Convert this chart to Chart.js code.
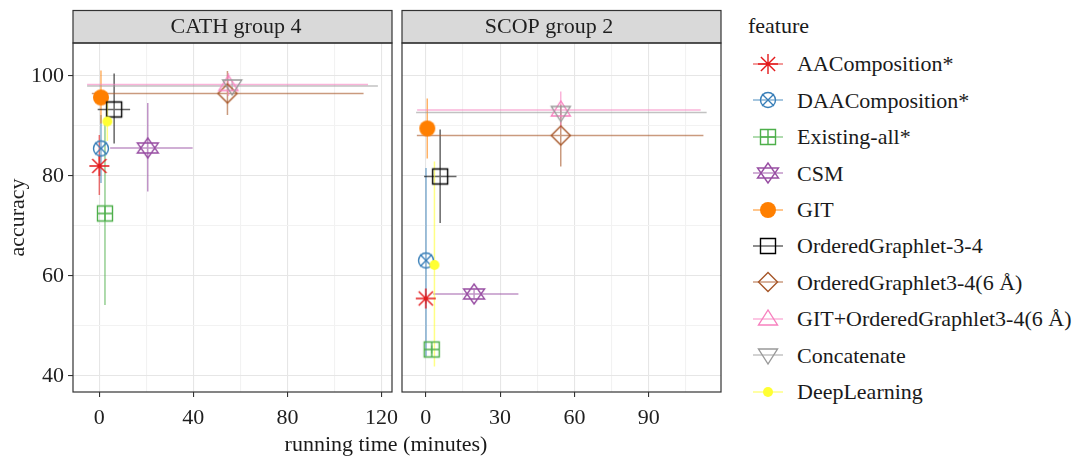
<!DOCTYPE html>
<html>
<head>
<meta charset="utf-8">
<script src="https://cdn.jsdelivr.net/npm/chart.js@4.4.1/dist/chart.umd.min.js"></script>
<style>
  body { margin: 0; width: 1085px; height: 458px; background: #fff; position: relative; overflow: hidden;
         font-family: "Liberation Serif", serif; color: #1a1a1a; }
  canvas { position: absolute; top: 0; }
  #cath { left: 0; }
  #scop { left: 397px; }
  #xtitle { position: absolute; left: 186px; width: 400px; top: 433px; text-align: center;
            font-size: 22px; line-height: 22px; }
  .ltxt { position: absolute; font-size: 22px; line-height: 22px; white-space: nowrap; }
</style>
</head>
<body>
<canvas id="cath" width="405" height="458"></canvas>
<canvas id="scop" width="329" height="458"></canvas>
<div id="xtitle">running time (minutes)</div>
<div id="legend"></div>
<script>
const features = ["AAComposition*", "DAAComposition*", "Existing-all*", "CSM", "GIT",
  "OrderedGraphlet-3-4", "OrderedGraphlet3-4(6 Å)", "GIT+OrderedGraphlet3-4(6 Å)", "Concatenate", "DeepLearning"];
const featureColors = ["#e41a1c", "#377eb8", "#4daf4a", "#984ea3", "#ff7f00",
  "#000000", "#a65628", "#f781bf", "#999999", "#ffff33"];
const featureShapes = ["asterisk", "circleCross", "squarePlus", "starDavid", "dot",
  "square", "diamond", "triangle", "triangleDown", "smallDot"];

// CATH group 4 (running time in minutes, accuracy in %)
const cathTime   = [0, 0.7, 2.4, 20.6, 0.7, 6.3, 54.5, 54.9, 56.5, 3.4];
const cathTimeLo = [-0.3, 0.4, 2.1, 4.6, 0.4, -0.7, -3.2, -5.2, -5.2, 3.1];
const cathTimeHi = [0.3, 1.0, 2.7, 39.7, 1.0, 13.1, 112.4, 114.3, 118.5, 3.7];
const cathAcc    = [82.0, 85.5, 72.5, 85.6, 95.7, 93.3, 96.5, 98.3, 98.0, 90.9];
const cathAccLo  = [76.2, 78.6, 54.2, 76.9, 90.5, 86.5, 92.2, 96.0, 97.0, 87.0];
const cathAccHi  = [88.2, 92.2, 91.5, 94.6, 101.1, 100.5, 101.0, 100.6, 99.0, 96.0];

// SCOP group 2
const scopTime   = [0, 0.1, 2.4, 19.5, 0.6, 5.8, 54.5, 54.5, 54.5, 3.5];
const scopTimeLo = [-0.3, -0.2, 2.1, 3.0, 0.3, -0.7, -3.6, -3.5, -3.9, 3.2];
const scopTimeHi = [0.3, 0.4, 2.7, 37.4, 0.9, 12.4, 112.1, 111.0, 113.4, 3.8];
const scopAcc    = [55.5, 63.1, 45.3, 56.4, 89.5, 79.9, 88.1, 93.2, 92.7, 62.2];
const scopAccLo  = [54.5, 43.9, 44.5, 55.5, 83.5, 70.6, 81.9, 89.5, 91.5, 41.9];
const scopAccHi  = [56.5, 81.6, 46.1, 57.3, 95.5, 89.3, 94.3, 96.9, 94.0, 82.9];

const cathXTicks = [0, 20, 40, 60, 80, 100, 120];
const cathXMajor = [0, 40, 80, 120];
const scopXTicks = [0, 15, 30, 45, 60, 75, 90, 105];
const scopXMajor = [0, 30, 60, 90];
const yTicks = [40, 50, 60, 70, 80, 90, 100];
const yMajor = [40, 60, 80, 100];

const FONT = "'Liberation Serif', serif";
const TEXT = '#1f1f1f';

function alpha(hex, a) {
  const n = parseInt(hex.slice(1), 16);
  return `rgba(${n >> 16},${(n >> 8) & 255},${n & 255},${a})`;
}

function drawShape(g, shape, color, cx, cy) {
  g.strokeStyle = color;
  g.fillStyle = color;
  g.lineWidth = 1.4;
  g.beginPath();
  if (shape === 'asterisk') {
    const r = 10, d = 7.1;
    g.moveTo(cx - r, cy); g.lineTo(cx + r, cy);
    g.moveTo(cx, cy - r); g.lineTo(cx, cy + r);
    g.moveTo(cx - d, cy - d); g.lineTo(cx + d, cy + d);
    g.moveTo(cx - d, cy + d); g.lineTo(cx + d, cy - d);
    g.stroke();
  } else if (shape === 'circleCross') {
    g.arc(cx, cy, 7.5, 0, Math.PI * 2);
    g.moveTo(cx - 6, cy - 6); g.lineTo(cx + 6, cy + 6);
    g.moveTo(cx - 6, cy + 6); g.lineTo(cx + 6, cy - 6);
    g.stroke();
  } else if (shape === 'squarePlus') {
    g.rect(cx - 7.5, cy - 7.5, 15, 15);
    g.moveTo(cx - 7.5, cy); g.lineTo(cx + 7.5, cy);
    g.moveTo(cx, cy - 7.5); g.lineTo(cx, cy + 7.5);
    g.stroke();
  } else if (shape === 'starDavid') {
    g.moveTo(cx, cy - 10); g.lineTo(cx - 10.5, cy + 5); g.lineTo(cx + 10.5, cy + 5); g.closePath();
    g.moveTo(cx, cy + 10); g.lineTo(cx - 10.5, cy - 5); g.lineTo(cx + 10.5, cy - 5); g.closePath();
    g.stroke();
  } else if (shape === 'dot') {
    g.arc(cx, cy, 8, 0, Math.PI * 2);
    g.fill();
  } else if (shape === 'square') {
    g.rect(cx - 7.5, cy - 7.5, 15, 15);
    g.stroke();
  } else if (shape === 'diamond') {
    g.moveTo(cx, cy - 9.5); g.lineTo(cx + 9.5, cy); g.lineTo(cx, cy + 9.5); g.lineTo(cx - 9.5, cy); g.closePath();
    g.stroke();
  } else if (shape === 'triangle') {
    g.moveTo(cx, cy - 9); g.lineTo(cx - 9.5, cy + 6); g.lineTo(cx + 9.5, cy + 6); g.closePath();
    g.stroke();
  } else if (shape === 'triangleDown') {
    g.moveTo(cx, cy + 9); g.lineTo(cx - 9.5, cy - 6); g.lineTo(cx + 9.5, cy - 6); g.closePath();
    g.stroke();
  } else if (shape === 'smallDot') {
    g.arc(cx, cy, 5, 0, Math.PI * 2);
    g.fill();
  }
}

function makeGlyph(i, withLine) {
  const c = document.createElement('canvas');
  c.width = withLine ? 34 : 26;
  c.height = 26;
  const g = c.getContext('2d');
  if (withLine) {
    g.strokeStyle = alpha(featureColors[i], 0.6);
    g.lineWidth = 1.5;
    g.beginPath(); g.moveTo(2, 13); g.lineTo(32, 13); g.stroke();
  }
  drawShape(g, featureShapes[i], featureColors[i], c.width / 2, 13);
  return c;
}

// horizontal + vertical ranges for every point, no end caps
const errorBars = {
  id: 'errorBars',
  beforeDatasetsDraw(chart) {
    const { ctx, chartArea: a, scales: { x, y } } = chart;
    ctx.save();
    ctx.beginPath(); ctx.rect(a.left, a.top, a.width, a.height); ctx.clip();
    ctx.lineWidth = 1.5;
    chart.data.datasets.forEach(ds => {
      const p = ds.data[0];
      ctx.strokeStyle = ds.rangeColor;
      ctx.beginPath();
      ctx.moveTo(x.getPixelForValue(p.xLo), y.getPixelForValue(p.y));
      ctx.lineTo(x.getPixelForValue(p.xHi), y.getPixelForValue(p.y));
      ctx.moveTo(x.getPixelForValue(p.x), y.getPixelForValue(p.yLo));
      ctx.lineTo(x.getPixelForValue(p.x), y.getPixelForValue(p.yHi));
      ctx.stroke();
    });
    ctx.restore();
  }
};

// panel border + facet strip
const panelFrame = {
  id: 'panelFrame',
  afterDraw(chart, args, opts) {
    const { ctx, chartArea: a } = chart;
    ctx.save();
    ctx.fillStyle = '#d9d9d9';
    ctx.fillRect(a.left, a.top - 32.5, a.width, 32.5);
    ctx.strokeStyle = '#333333';
    ctx.lineWidth = 1.2;
    ctx.strokeRect(a.left, a.top - 32.5, a.width, 32.5);
    ctx.strokeRect(a.left, a.top, a.width, a.height);
    ctx.fillStyle = TEXT;
    ctx.font = '22px ' + FONT;
    ctx.textAlign = 'center';
    ctx.textBaseline = 'alphabetic';
    ctx.fillText(opts.text, a.left + opts.textX, a.top - 10);
    ctx.restore();
  }
};

function buildDatasets(time, timeLo, timeHi, acc, accLo, accHi) {
  return features.map((f, i) => ({
    label: f,
    data: [{ x: time[i], y: acc[i], xLo: timeLo[i], xHi: timeHi[i], yLo: accLo[i], yHi: accHi[i] }],
    pointStyle: makeGlyph(i, false),
    pointRadius: 10,
    rangeColor: alpha(featureColors[i], 0.6),
    order: features.length - i
  }));
}

function gridColor(major) {
  return ctx => major.includes(ctx.tick.value) ? '#e6e6e6' : '#f2f2f2';
}
function tickColor(major) {
  return ctx => major.includes(ctx.tick.value) ? '#333333' : 'rgba(0,0,0,0)';
}

function makePanel(id, title, textX, datasets, xMin, xMax, xTicks, xMajor, showY, leftPad, rightPad) {
  return new Chart(document.getElementById(id), {
    type: 'scatter',
    data: { datasets },
    options: {
      responsive: false,
      animation: false,
      events: [],
      layout: { autoPadding: false, padding: { top: 43, right: rightPad, bottom: 0, left: leftPad } },
      plugins: { legend: { display: false }, tooltip: { enabled: false }, panelFrame: { text: title, textX } },
      scales: {
        x: {
          type: 'linear', min: xMin, max: xMax,
          afterBuildTicks: s => { s.ticks = xTicks.map(v => ({ value: v })); },
          afterFit: s => { s.height = 66; s.paddingLeft = 0; s.paddingRight = 0; },
          border: { display: false },
          grid: { color: gridColor(xMajor), lineWidth: 1.1, tickColor: tickColor(xMajor), tickWidth: 1.1, tickLength: 5 },
          ticks: {
            autoSkip: false, maxRotation: 0, padding: 8, color: TEXT,
            font: { family: FONT, size: 22 },
            callback: v => xMajor.includes(v) ? String(v) : ''
          }
        },
        y: {
          type: 'linear', min: 36.8, max: 106.6,
          afterBuildTicks: s => { s.ticks = yTicks.map(v => ({ value: v })); },
          afterFit: s => { s.width = showY ? 73 : 0; s.paddingTop = 0; s.paddingBottom = 0; },
          border: { display: false },
          grid: { color: gridColor(yMajor), lineWidth: 1.1, tickColor: tickColor(yMajor), tickWidth: 1.1, tickLength: 5, drawTicks: showY },
          title: { display: showY, text: 'accuracy', color: TEXT, font: { family: FONT, size: 22 }, padding: { top: 5, bottom: 0 } },
          ticks: {
            display: showY, autoSkip: false, padding: 4, color: TEXT,
            font: { family: FONT, size: 22 },
            callback: v => yMajor.includes(v) ? String(v) : ''
          }
        }
      }
    },
    plugins: [errorBars, panelFrame]
  });
}

makePanel('cath', 'CATH group 4', 163,
  buildDatasets(cathTime, cathTimeLo, cathTimeHi, cathAcc, cathAccLo, cathAccHi),
  -11.2, 124.5, cathXTicks, cathXMajor, true, 0, 13);
makePanel('scop', 'SCOP group 2', 147,
  buildDatasets(scopTime, scopTimeLo, scopTimeHi, scopAcc, scopAccLo, scopAccHi),
  -9.6, 119.2, scopXTicks, scopXMajor, false, 5, 5);

// legend
const legend = document.getElementById('legend');
const ttl = document.createElement('div');
ttl.className = 'ltxt';
ttl.style.left = '748px';
ttl.style.top = (33.3 - 18.4) + 'px';
ttl.textContent = 'feature';
legend.appendChild(ttl);
features.forEach((f, i) => {
  const base = 71.7 + i * 36.4;
  const glyph = makeGlyph(i, true);
  glyph.style.left = '751px';
  glyph.style.top = (base - 7.7 - 13) + 'px';
  legend.appendChild(glyph);
  const t = document.createElement('div');
  t.className = 'ltxt';
  t.style.left = '797px';
  t.style.top = (base - 18.4) + 'px';
  t.textContent = f;
  legend.appendChild(t);
});
</script>
</body>
</html>
